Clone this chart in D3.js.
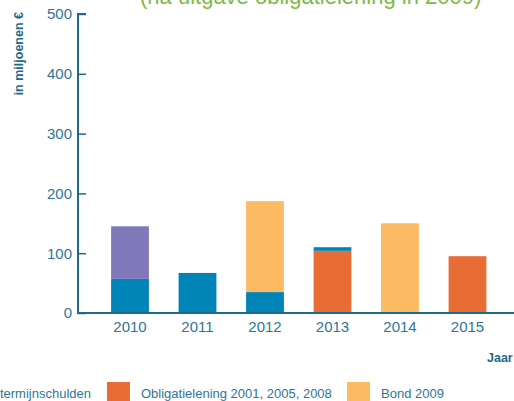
<html>
<head>
  <meta charset="utf-8">
  <script src="https://d3js.org/d3.v7.min.js"></script>
</head>
<style type="text/css">
body { margin: 0; background: #fff; }
svg { display: block; font-family: "Liberation Sans", Arial, sans-serif; }
</style>
<body>
<script>

var years = ["2010", "2011", "2012", "2013", "2014", "2015"];
// stacking order bottom -> top
var seriesKeys = ["oblig", "lang", "kort", "bond"];
var seriesNames = {
  kort: "Kortetermijnschulden",
  lang: "Langetermijnschulden",
  oblig: "Obligatielening 2001, 2005, 2008",
  bond: "Bond 2009"
};
var oblig = [0, 0, 0, 104, 0, 95];
var lang  = [57, 67, 35, 6, 0, 0];
var kort  = [88, 0, 0, 0, 0, 0];
var bond  = [0, 0, 152, 0, 150, 0];
var yTicks = [0, 100, 200, 300, 400, 500];

var colors = {
  oblig: "#E86D35",
  lang: "#0083B7",
  kort: "#7F79B9",
  bond: "#FCBA63"
};

var width = 514,
    height = 401,
    axisCol = "#1D6A8A",
    textCol = "#2F7597";

var rows = years.map(function(y, i) {
  return {year: y, oblig: oblig[i], lang: lang[i], kort: kort[i], bond: bond[i]};
});

var svg = d3.select("body").append("svg")
  .attr("width", width)
  .attr("height", height);

var x = d3.scaleBand()
  .domain(years)
  .range([96.25, 501.25])
  .paddingInner(0.44)
  .paddingOuter(0.22);

var y = d3.scaleLinear()
  .domain([0, 500])
  .range([313, 14]);

// title, cut off at the top
svg.append("text")
  .attr("x", 140)
  .attr("y", 4)
  .attr("fill", "#7DB944")
  .style("font-size", "22px")
  .text("(na uitgave obligatielening in 2009)");

var stack = d3.stack().keys(seriesKeys);

svg.append("g").selectAll("g")
  .data(stack(rows))
  .enter().append("g")
  .attr("fill", function(d) { return colors[d.key]; })
  .selectAll("rect")
  .data(function(d) { return d; })
  .enter().append("rect")
  .filter(function(d) { return d[1] > d[0]; })
  .attr("x", function(d) { return x(d.data.year); })
  .attr("y", function(d) { return y(d[1]); })
  .attr("width", x.bandwidth())
  .attr("height", function(d) { return y(d[0]) - y(d[1]); });

// y axis
var yAxis = svg.append("g")
  .attr("transform", "translate(78,0)")
  .call(d3.axisRight(y).tickValues(yTicks).tickSize(8).tickFormat(""));
yAxis.select(".domain").attr("stroke", axisCol).attr("stroke-width", 2)
  .attr("d", "M8,14H0V313");
yAxis.selectAll(".tick line").attr("stroke", axisCol).attr("stroke-width", 1.5);

svg.append("g").selectAll("text")
  .data(yTicks)
  .enter().append("text")
  .attr("x", 72)
  .attr("y", function(d) { return y(d); })
  .attr("dy", "0.36em")
  .attr("text-anchor", "end")
  .attr("fill", textCol)
  .style("font-size", "15px")
  .text(function(d) { return d; });

// x axis
svg.append("line")
  .attr("x1", 77)
  .attr("x2", width)
  .attr("y1", y(0))
  .attr("y2", y(0))
  .attr("stroke", axisCol)
  .attr("stroke-width", 2);

svg.append("g").selectAll("text")
  .data(years)
  .enter().append("text")
  .attr("x", function(d) { return x(d) + x.bandwidth() / 2; })
  .attr("y", 332)
  .attr("text-anchor", "middle")
  .attr("fill", textCol)
  .style("font-size", "15px")
  .text(function(d) { return d; });

svg.append("text")
  .attr("x", 487)
  .attr("y", 362)
  .attr("fill", axisCol)
  .style("font-size", "12.5px")
  .style("font-weight", "bold")
  .text("Jaar");

svg.append("text")
  .attr("transform", "translate(23,12)rotate(-90)")
  .attr("text-anchor", "end")
  .attr("fill", axisCol)
  .style("font-size", "12.5px")
  .style("font-weight", "bold")
  .text("in miljoenen €");

// legend (partly outside the frame)
var legend = [
  {key: "lang", sx: null, tx: 91, anchor: "end"},
  {key: "oblig", sx: 107, tx: 141, anchor: "start"},
  {key: "bond", sx: 347, tx: 381, anchor: "start"}
];

var lg = svg.append("g");
lg.selectAll("rect")
  .data(legend.filter(function(d) { return d.sx !== null; }))
  .enter().append("rect")
  .attr("x", function(d) { return d.sx; })
  .attr("y", 382)
  .attr("width", 23)
  .attr("height", 22)
  .attr("fill", function(d) { return colors[d.key]; });

lg.selectAll("text")
  .data(legend)
  .enter().append("text")
  .attr("x", function(d) { return d.tx; })
  .attr("y", 398)
  .attr("text-anchor", function(d) { return d.anchor; })
  .attr("fill", textCol)
  .style("font-size", "13px")
  .text(function(d) { return seriesNames[d.key]; });

</script>
</body>
</html>
